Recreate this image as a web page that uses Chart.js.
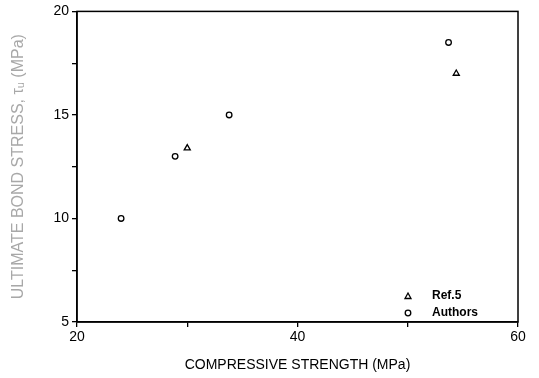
<!DOCTYPE html>
<html><head><meta charset="utf-8">
<script src="https://cdn.jsdelivr.net/npm/chart.js@4"></script>
<style>html,body{margin:0;padding:0;background:#fff}#wrap{width:539px;height:378px}</style>
</head><body><div id="wrap"><canvas id="c" width="539" height="378"></canvas></div>
<script>
const ref5X = [30, 54.4];
const ref5Y = [13.4, 17.0];
const authorsX = [24, 28.9, 33.8, 53.7];
const authorsY = [10, 13, 15, 18.5];
const xTicks = [20, 30, 40, 50, 60];
const xLabels = ['20', '', '40', '', '60'];
const yTicks = [5, 7.5, 10, 12.5, 15, 17.5, 20];
const yLabels = ['5', '', '10', '', '15', '', '20'];

const toPts = (xs, ys) => xs.map((x, i) => ({x, y: ys[i]}));
const FONT = "'Liberation Sans', Arial, sans-serif";

const framePlugin = {
  id: 'frame',
  afterDraw(chart) {
    const {ctx, chartArea: a} = chart;
    ctx.save();
    ctx.strokeStyle = '#000';
    ctx.lineWidth = 1.5;
    ctx.strokeRect(a.left, a.top, a.right - a.left, a.bottom - a.top);
    // legend inside plot
    const ds = chart.data.datasets;
    const lx = 408, ly0 = 296;
    ctx.font = "bold 12px " + FONT;
    ctx.textBaseline = 'middle';
    ds.forEach((d, i) => {
      const y = ly0 + i * 17;
      ctx.lineWidth = 1.3;
      ctx.strokeStyle = '#000';
      ctx.beginPath();
      if (d.pointStyle === 'triangle') {
        ctx.moveTo(lx, y - 3); ctx.lineTo(lx + 3, y + 2.5); ctx.lineTo(lx - 3, y + 2.5); ctx.closePath();
      } else {
        ctx.arc(lx, y, 2.8, 0, Math.PI * 2);
      }
      ctx.stroke();
      ctx.fillStyle = '#000';
      ctx.fillText(d.label, lx + 24, y);
    });
    ctx.restore();
  }
};

new Chart(document.getElementById('c'), {
  type: 'scatter',
  data: {
    datasets: [
      {label: 'Ref.5', data: toPts(ref5X, ref5Y), pointStyle: 'triangle', radius: 3.5,
       borderColor: '#000', backgroundColor: '#fff', borderWidth: 1.3},
      {label: 'Authors', data: toPts(authorsX, authorsY), pointStyle: 'circle', radius: 2.8,
       borderColor: '#000', backgroundColor: '#fff', borderWidth: 1.3}
    ]
  },
  options: {
    responsive: false,
    animation: false,
    events: [],
    layout: {padding: {top: 11, right: 21, left: 0, bottom: 0}},
    plugins: {legend: {display: false}, tooltip: {enabled: false}},
    scales: {
      x: {
        type: 'linear', min: 20, max: 60,
        afterBuildTicks: s => { s.ticks = xTicks.map(v => ({value: v})); },
        afterFit: s => { s.height = 56; },
        ticks: {callback: (v, i) => xLabels[i], color: '#000', font: {family: FONT, size: 14}, maxRotation: 0, padding: 2},
        grid: {drawOnChartArea: false, tickLength: 5, color: '#000', lineWidth: 1.3},
        border: {display: true, color: '#000', width: 1.5},
        title: {display: true, text: 'COMPRESSIVE STRENGTH (MPa)', color: '#000', font: {family: FONT, size: 14}, padding: {top: 8}}
      },
      y: {
        type: 'linear', min: 5, max: 20,
        afterBuildTicks: s => { s.ticks = yTicks.map(v => ({value: v})); },
        afterFit: s => { s.width = 77; },
        ticks: {callback: (v, i) => yLabels[i], color: '#000', font: {family: FONT, size: 14}, padding: 3},
        grid: {drawOnChartArea: false, tickLength: 5, color: '#000', lineWidth: 1.3},
        border: {display: true, color: '#000', width: 1.5},
        title: {display: true, text: 'ULTIMATE BOND STRESS, τᵤ (MPa)', color: '#a8a8a8', font: {family: FONT, size: 16}, padding: {top: 9, bottom: 2}}
      }
    }
  },
  plugins: [framePlugin]
});
</script>
</body></html>
